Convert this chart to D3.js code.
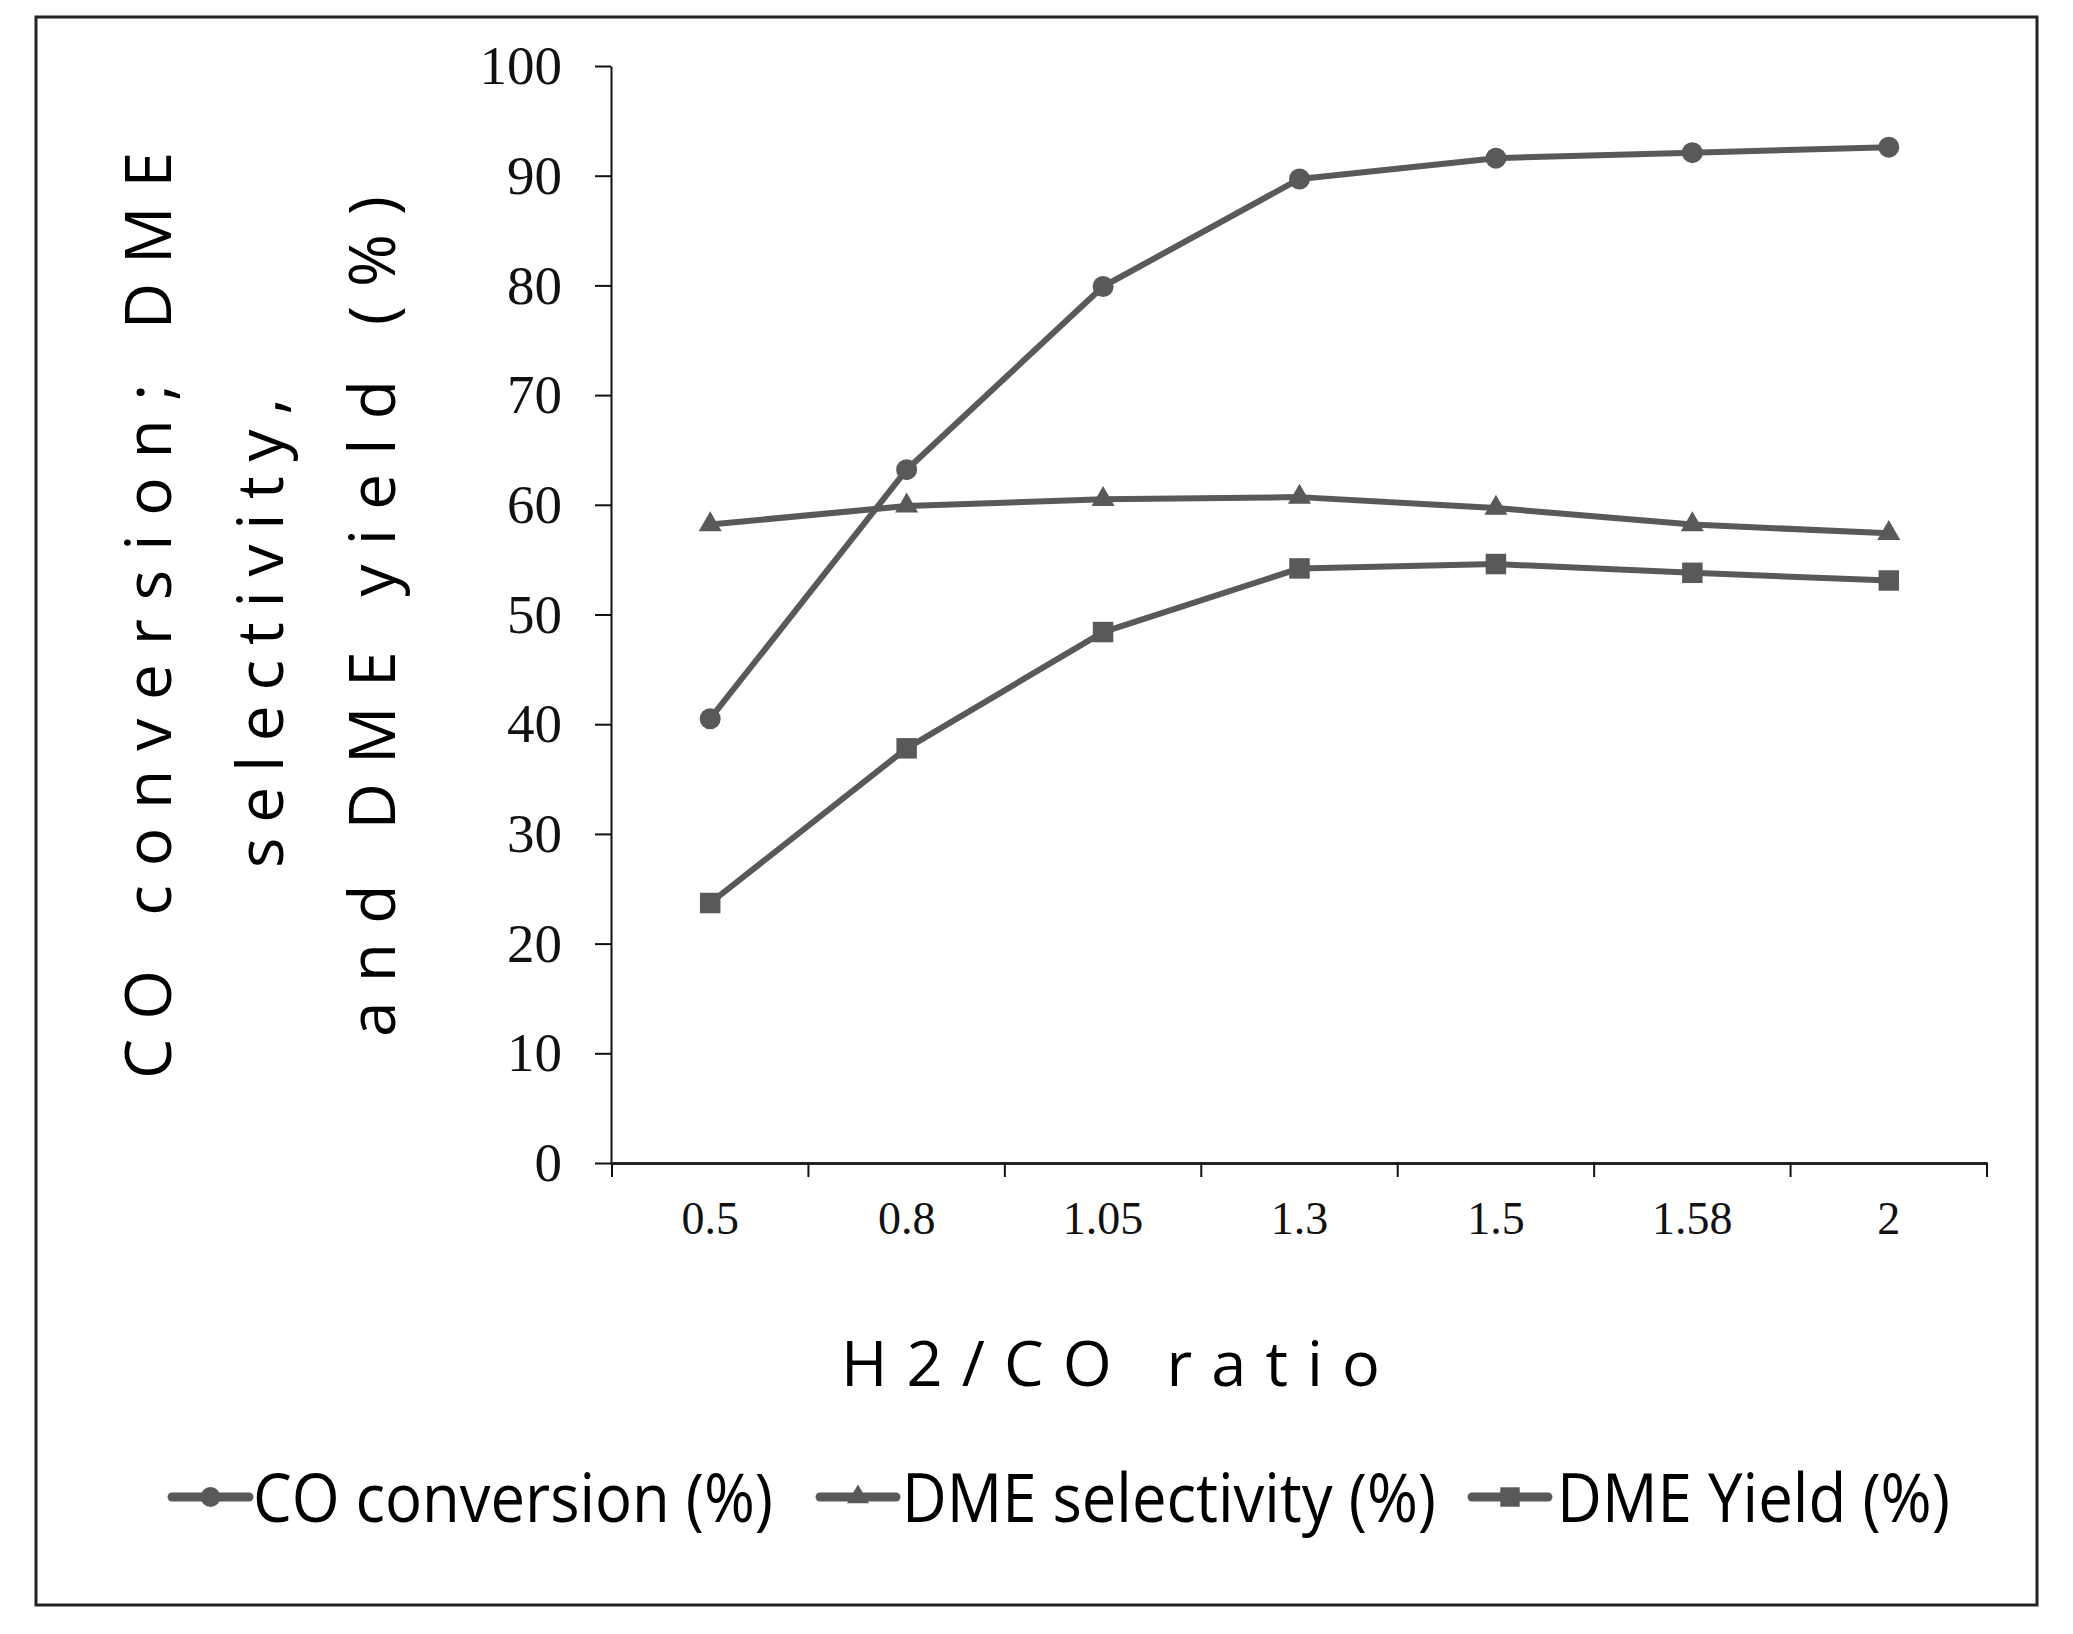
<!DOCTYPE html>
<html>
<head>
<meta charset="utf-8">
<script src="https://cdn.jsdelivr.net/npm/d3@7"></script>
<style>
  body { margin: 0; background: #fff; }
  svg { display: block; }
</style>
</head>
<body>
<svg id="chart" width="2073" height="1634"></svg>
<script>
(function(){

  // data
  var ratios = ["0.5", "0.8", "1.05", "1.3", "1.5", "1.58", "2"];
  var coConversion = [40.5, 63.2, 79.9, 89.7, 91.6, 92.1, 92.6];
  var dmeSelectivity = [58.2, 59.9, 60.5, 60.7, 59.7, 58.2, 57.4];
  var dmeYield = [23.7, 37.8, 48.4, 54.2, 54.6, 53.8, 53.1];
  var yTicks = [0, 10, 20, 30, 40, 50, 60, 70, 80, 90, 100];
  var seriesNames = ["CO conversion (%)", "DME selectivity (%)", "DME Yield (%)"];

  var grey = "#595959";
  var svg = d3.select("#chart");

  // outer frame
  svg.append("rect")
    .attr("x", 36).attr("y", 17)
    .attr("width", 2001).attr("height", 1588)
    .attr("fill", "none")
    .attr("stroke", "#222")
    .attr("stroke-width", 3);

  var x = d3.scaleBand().domain(ratios).range([612, 1987]);
  var y = d3.scaleLinear().domain([0, 100]).range([1163, 66]);

  // y axis
  var yAxis = svg.append("g")
    .attr("transform", "translate(611,0)")
    .call(d3.axisLeft(y).tickValues(yTicks).tickSize(16).tickSizeOuter(0).tickPadding(33));
  yAxis.select(".domain").attr("stroke", "#111").attr("stroke-width", 2);
  yAxis.selectAll(".tick line").attr("stroke", "#111").attr("stroke-width", 2);
  yAxis.selectAll("text")
    .attr("fill", "#111")
    .style("font-family", "'Liberation Serif', 'Times New Roman', serif")
    .style("font-size", "55px");

  // x axis: labels at band centres, ticks on band edges
  var xAxis = svg.append("g")
    .attr("transform", "translate(0,1163)")
    .call(d3.axisBottom(x).tickSize(0).tickSizeOuter(0).tickPadding(38));
  xAxis.select(".domain").attr("stroke", "#222").attr("stroke-width", 3);
  xAxis.selectAll("text")
    .attr("fill", "#111")
    .style("font-family", "'Liberation Serif', 'Times New Roman', serif")
    .style("font-size", "46px");

  var edges = ratios.map(function(r){ return x(r); }).concat([x.range()[1]]);
  svg.append("g").selectAll("line")
    .data(edges)
    .enter()
    .append("line")
    .attr("x1", function(d){ return d; })
    .attr("x2", function(d){ return d; })
    .attr("y1", 1163).attr("y2", 1177)
    .attr("stroke", "#111")
    .attr("stroke-width", 2);

  // axis titles
  var sans = "'Open Sans', 'Noto Sans', sans-serif";
  svg.append("text")
    .attr("x", 841).attr("y", 1386)
    .attr("textLength", 539)
    .attr("lengthAdjust", "spacing")
    .style("font-family", sans)
    .style("font-size", "63px")
    .attr("fill", "#000")
    .text("H2/CO ratio");

  var yTitle = [
    { text: "CO conversion; DME", bx: 171, start: 1079, len: 927 },
    { text: "selectivity,", bx: 283, start: 868, len: 470 },
    { text: "and DME yield (%)", bx: 395, start: 1037, len: 841 }
  ];
  svg.append("g").selectAll("text")
    .data(yTitle)
    .enter()
    .append("text")
    .attr("transform", function(d){ return "translate(" + d.bx + "," + d.start + ") rotate(-90)"; })
    .attr("textLength", function(d){ return d.len; })
    .attr("lengthAdjust", "spacing")
    .style("font-family", sans)
    .style("font-size", "64px")
    .attr("fill", "#000")
    .text(function(d){ return d.text; });

  // series
  var series = [
    { name: seriesNames[0], values: coConversion, symbol: d3.symbolCircle, size: 346 },
    { name: seriesNames[1], values: dmeSelectivity, symbol: d3.symbolTriangle, size: 230 },
    { name: seriesNames[2], values: dmeYield, symbol: d3.symbolSquare, size: 420 }
  ];

  var line = d3.line()
    .x(function(d, i){ return x(ratios[i]) + x.bandwidth() / 2; })
    .y(function(d){ return y(d); });

  series.forEach(function(s){
    svg.append("path")
      .attr("d", line(s.values))
      .attr("fill", "none")
      .attr("stroke", grey)
      .attr("stroke-width", 6)
      .attr("stroke-linejoin", "round");

    svg.append("g").selectAll("path")
      .data(s.values)
      .enter()
      .append("path")
      .attr("d", d3.symbol().type(s.symbol).size(s.size))
      .attr("transform", function(d, i){
        return "translate(" + (x(ratios[i]) + x.bandwidth() / 2) + "," + y(d) + ")";
      })
      .attr("fill", grey);
  });

  // legend
  var legendItems = [
    { x0: 172, x1: 249, tx: 253, tl: 520 },
    { x0: 820, x1: 896, tx: 902, tl: 534 },
    { x0: 1472, x1: 1548, tx: 1557, tl: 393 }
  ];
  legendItems.forEach(function(it, i){
    var g = svg.append("g");
    g.append("line")
      .attr("x1", it.x0).attr("x2", it.x1)
      .attr("y1", 1497).attr("y2", 1497)
      .attr("stroke", grey)
      .attr("stroke-width", 9)
      .attr("stroke-linecap", "round");
    g.append("path")
      .attr("d", d3.symbol().type(series[i].symbol).size(series[i].size * 0.9))
      .attr("transform", "translate(" + ((it.x0 + it.x1) / 2) + ",1497)")
      .attr("fill", grey);
    g.append("text")
      .attr("x", it.tx).attr("y", 1522)
      .attr("textLength", it.tl)
      .attr("lengthAdjust", "spacingAndGlyphs")
      .style("font-family", sans)
      .style("font-size", "68px")
      .attr("fill", "#000")
      .text(series[i].name);
  });

})();
</script>
</body>
</html>
